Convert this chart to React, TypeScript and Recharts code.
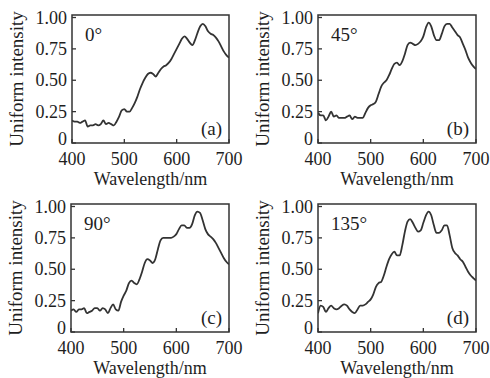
import React from 'react';
import { LineChart, Line, XAxis, YAxis, ReferenceArea } from 'recharts';

const wavelengths = [400,405,410,415,420,425,430,435,440,445,450,455,460,465,470,475,480,485,490,495,500,505,510,515,520,525,530,535,540,545,550,555,560,565,570,575,580,585,590,595,600,605,610,615,620,625,630,635,640,645,650,655,660,665,670,675,680,685,690,695,700];

const series0 = [0.18,0.17,0.17,0.16,0.17,0.18,0.13,0.14,0.14,0.15,0.14,0.15,0.18,0.15,0.16,0.15,0.14,0.17,0.21,0.26,0.27,0.25,0.25,0.28,0.32,0.37,0.43,0.48,0.52,0.55,0.56,0.55,0.53,0.56,0.59,0.61,0.62,0.64,0.67,0.71,0.75,0.79,0.83,0.85,0.83,0.80,0.78,0.82,0.88,0.93,0.95,0.93,0.89,0.87,0.86,0.84,0.81,0.77,0.73,0.70,0.68];
const series45 = [0.24,0.22,0.22,0.18,0.21,0.25,0.21,0.22,0.20,0.20,0.20,0.21,0.22,0.19,0.21,0.20,0.20,0.20,0.24,0.28,0.30,0.31,0.33,0.39,0.45,0.48,0.50,0.54,0.59,0.63,0.64,0.62,0.65,0.71,0.78,0.80,0.79,0.78,0.79,0.81,0.85,0.92,0.96,0.93,0.86,0.82,0.82,0.87,0.93,0.95,0.95,0.92,0.89,0.86,0.84,0.79,0.74,0.68,0.64,0.61,0.59];
const series90 = [0.17,0.18,0.16,0.18,0.18,0.19,0.15,0.16,0.17,0.19,0.19,0.17,0.19,0.18,0.15,0.19,0.22,0.18,0.17,0.24,0.29,0.33,0.39,0.41,0.39,0.38,0.42,0.48,0.55,0.58,0.57,0.55,0.58,0.66,0.73,0.75,0.75,0.75,0.75,0.76,0.78,0.82,0.85,0.85,0.83,0.83,0.86,0.93,0.96,0.95,0.89,0.82,0.78,0.76,0.74,0.71,0.67,0.63,0.59,0.56,0.54];
const series135 = [0.15,0.21,0.20,0.16,0.19,0.21,0.19,0.18,0.19,0.21,0.22,0.21,0.18,0.16,0.15,0.18,0.21,0.21,0.22,0.24,0.26,0.30,0.36,0.39,0.40,0.45,0.52,0.58,0.62,0.64,0.61,0.61,0.69,0.80,0.88,0.90,0.87,0.83,0.80,0.81,0.87,0.93,0.96,0.93,0.85,0.79,0.79,0.81,0.85,0.85,0.77,0.67,0.63,0.61,0.58,0.56,0.52,0.48,0.45,0.43,0.41];

const xTicks = [400, 500, 600, 700];
const yTicks = [0, 0.25, 0.5, 0.75, 1.0];
const yTickLabels = ['0', '0.25', '0.50', '0.75', '1.00'];
const angleLabels = ['0°', '45°', '90°', '135°'];
const panelLabels = ['(a)', '(b)', '(c)', '(d)'];
const allSeries = [series0, series45, series90, series135];

const FONT = 'Liberation Serif';
const INK = '#1e1e1e';
const LINE = '#333';
const TICK_FS = 18;

const CH_W = 245;
const CH_H = 195;
const PLOT_TOP = 15;
const PLOT_BOTTOM = 143;

const txt = { fontFamily: FONT };

function YTick(props: any) {
  const { x, y, payload } = props;
  const v = payload.value as number;
  const label = yTickLabels[yTicks.indexOf(v)] ?? String(v);
  return (
    <text x={x} y={y} dy={v === 0 ? -4 : 0} textAnchor="end" dominantBaseline="central" style={txt} fontSize={TICK_FS} fill={INK}>
      {label}
    </text>
  );
}

function Panel({ idx, left, top, plotLeft, plotRight }: { idx: number; left: number; top: number; plotLeft: number; plotRight: number }) {
  const values = allSeries[idx];
  const data = wavelengths.map((w, i) => ({ w, v: values[i] }));
  const cx = (plotLeft + plotRight) / 2;
  return (
    <div style={{ position: 'absolute', left, top, width: CH_W, height: CH_H, fontFamily: FONT }}>
      <LineChart width={CH_W} height={CH_H} data={data} margin={{ top: PLOT_TOP, right: CH_W - plotRight, left: 0, bottom: 0 }} style={{ fontFamily: FONT }}>
        <XAxis
          dataKey="w"
          type="number"
          domain={[400, 700]}
          ticks={xTicks}
          allowDataOverflow
          height={CH_H - PLOT_BOTTOM}
          axisLine={false}
          tickSize={-4}
          tickMargin={13}
          tickLine={{ stroke: LINE, strokeWidth: 1.3 }}
          tick={{ fill: INK, fontSize: TICK_FS, fontFamily: FONT, style: txt }}
        />
        <YAxis
          type="number"
          domain={[0, 1.02]}
          ticks={yTicks}
          allowDataOverflow
          width={plotLeft}
          axisLine={false}
          tickSize={-4}
          tickMargin={9}
          tickLine={{ stroke: LINE, strokeWidth: 1.3 }}
          tick={<YTick />}
        />
        <ReferenceArea x1={400} x2={700} y1={0} y2={1.02} fill="none" stroke={LINE} strokeWidth={1.5} fillOpacity={0} ifOverflow="visible" />
        <Line type="monotone" dataKey="v" stroke={LINE} strokeWidth={1.8} dot={false} isAnimationActive={false} />
        <text x={plotLeft - 56} y={79} transform={`rotate(-90 ${plotLeft - 56} 79)`} textAnchor="middle" dominantBaseline="central" style={txt} fontSize={19} fill={INK}>Uniform intensity</text>
        <text x={cx} y={185} textAnchor="middle" style={txt} fontSize={18} fill={INK}>Wavelength/nm</text>
        <text x={plotLeft + 13} y={41} textAnchor="start" style={txt} fontSize={19} fill={INK}>{angleLabels[idx]}</text>
        <text x={plotRight - 7} y={135} textAnchor="end" style={txt} fontSize={19} fill={INK}>{panelLabels[idx]}</text>
      </LineChart>
    </div>
  );
}

export default function App() {
  return (
    <div style={{ position: 'absolute', left: 0, top: 0, width: 490, height: 378, background: '#fff' }}>
      <Panel idx={0} left={0} top={0} plotLeft={72} plotRight={229} />
      <Panel idx={1} left={245} top={0} plotLeft={73} plotRight={231} />
      <Panel idx={2} left={0} top={189} plotLeft={71} plotRight={229} />
      <Panel idx={3} left={245} top={189} plotLeft={73} plotRight={231} />
    </div>
  );
}
